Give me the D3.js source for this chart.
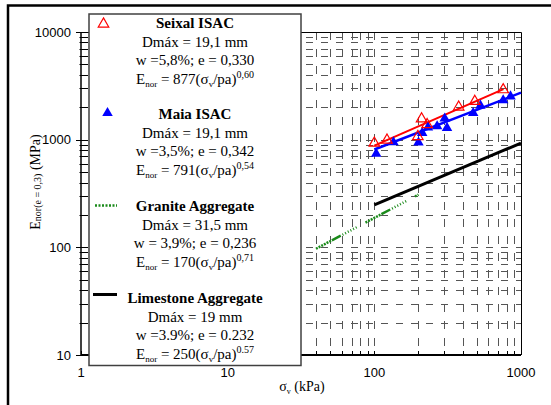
<!DOCTYPE html>
<html>
<head>
<meta charset="utf-8">
<script src="https://cdn.jsdelivr.net/npm/d3@7"></script>
<style>
  body { margin: 0; background: #fff; }
  svg { display: block; }
</style>
</head>
<body>
<svg id="chart" width="551" height="405"></svg>
<script>
// values: [sigma_v kPa, E MPa]
const seixalPoints = [[100, 930], [122, 990], [198, 1070], [210, 1560], [229, 1380], [376, 2010], [484, 2270], [756, 2910]];
const maiaPoints = [[103, 740], [135, 945], [200, 940], [212, 1155], [232, 1300], [268, 1330], [302, 1570], [313, 1285], [472, 1770], [529, 2070], [756, 2320], [848, 2520]];
const seixalFit = [[100, 880], [760, 2950]];
const maiaFit = [[100, 810], [1000, 2730]];
const graniteFit = [[40, 97], [200, 309]];
const limestoneFit = [[100, 248], [1000, 930]];
const xTickLabels = [1, 10, 100, 1000];
const yTickLabels = [10, 100, 1000, 10000];

const legendItems = [
  { title: 'Seixal ISAC', dmax: 'Dmáx = 19,1 mm', we: 'w =5,8%; e = 0,330', k: '877', n: '0,60', y: 28 },
  { title: 'Maia ISAC', dmax: 'Dmáx = 19,1 mm', we: 'w =3,5%; e = 0,342', k: '791', n: '0,54', y: 119 },
  { title: 'Granite Aggregate', dmax: 'Dmáx = 31,5 mm', we: 'w = 3,9%; e = 0,236', k: '170', n: '0,71', y: 211 },
  { title: 'Limestone Aggregate', dmax: 'Dmáx = 19 mm', we: 'w =3.9%; e = 0.232', k: '250', n: '0.57', y: 303 }
];

const svg = d3.select('#chart');
const plot = { left: 81, right: 521, top: 32, bottom: 355 };

const x = d3.scaleLog().domain([1, 1000]).range([plot.left, plot.right]);
const y = d3.scaleLog().domain([10, 10000]).range([plot.bottom, plot.top]);

// outer frame
svg.append('rect')
  .attr('x', 8).attr('y', 5.5).attr('width', 600).attr('height', 500)
  .attr('fill', 'none').attr('stroke', '#000').attr('stroke-width', 2.5);

function minorValues(lo, hi) {
  const out = [];
  for (let d = lo; d < hi; d *= 10) {
    for (let k = 1; k <= 9; k++) out.push(d * k);
  }
  out.push(hi);
  return out;
}
const xMinor = minorValues(1, 1000);
const yMinor = minorValues(10, 10000);

// dashed grid
const grid = svg.append('g').attr('stroke', '#555').attr('stroke-width', 1);
grid.selectAll('line.gx').data(xMinor.filter(v => v > 1 && v < 1000)).join('line')
  .attr('class', 'gx')
  .attr('x1', d => Math.round(x(d)) + 0.5).attr('x2', d => Math.round(x(d)) + 0.5)
  .attr('y1', plot.top).attr('y2', plot.bottom)
  .attr('stroke-dasharray', '8,9');
grid.selectAll('line.gy').data(yMinor.filter(v => v > 10 && v < 10000)).join('line')
  .attr('class', 'gy')
  .attr('x1', plot.left).attr('x2', plot.right)
  .attr('y1', d => Math.round(y(d)) + 0.5).attr('y2', d => Math.round(y(d)) + 0.5)
  .attr('stroke-dasharray', '7,8');

// plot frame (top and right thin)
svg.append('path')
  .attr('d', `M${plot.left},${plot.top + 0.5}H${plot.right + 0.5}V${plot.bottom}`)
  .attr('fill', 'none').attr('stroke', '#000').attr('stroke-width', 1);

// fitted lines
const line = d3.line().x(d => x(d[0])).y(d => y(d[1]));
svg.append('path').attr('d', line(limestoneFit))
  .attr('fill', 'none').attr('stroke', '#000').attr('stroke-width', 3);
svg.append('path').attr('d', line(graniteFit))
  .attr('fill', 'none').attr('stroke', '#1a8a1a').attr('stroke-width', 2.5)
  .attr('stroke-dasharray', '2,1,2,1,2,1,2,1,2,1,2,1,10');
svg.append('path').attr('d', line(seixalFit))
  .attr('fill', 'none').attr('stroke', '#ff0000').attr('stroke-width', 2);
svg.append('path').attr('d', line(maiaFit))
  .attr('fill', 'none').attr('stroke', '#0000ff').attr('stroke-width', 2.5);

// markers
const tri = d3.symbol().type(d3.symbolTriangle).size(48);
svg.selectAll('path.maia').data(maiaPoints).join('path')
  .attr('class', 'maia')
  .attr('d', tri)
  .attr('transform', d => `translate(${x(d[0])},${y(d[1])})`)
  .attr('fill', '#0000ff');
svg.selectAll('path.seixal').data(seixalPoints).join('path')
  .attr('class', 'seixal')
  .attr('d', tri)
  .attr('transform', d => `translate(${x(d[0])},${y(d[1])})`)
  .attr('fill', 'none').attr('stroke', '#ff0000').attr('stroke-width', 1.2);

// axes
const yAxis = svg.append('g').attr('transform', `translate(${plot.left},0)`);
yAxis.append('line').attr('x1', 0).attr('x2', 0).attr('y1', plot.top).attr('y2', plot.bottom)
  .attr('stroke', '#000').attr('stroke-width', 1.5);
yAxis.selectAll('line.t').data(yMinor).join('line').attr('class', 't')
  .attr('x1', d => yTickLabels.includes(d) ? -5 : -1.5).attr('x2', 7)
  .attr('y1', d => Math.round(y(d)) + 0.5).attr('y2', d => Math.round(y(d)) + 0.5)
  .attr('stroke', '#000').attr('stroke-width', 1);
yAxis.selectAll('text').data(yTickLabels).join('text')
  .attr('x', -10).attr('y', d => y(d)).attr('dy', '0.35em')
  .attr('text-anchor', 'end')
  .style('font-family', 'Liberation Sans, Arial, sans-serif').style('font-size', '13px')
  .text(d => d);

const xAxis = svg.append('g').attr('transform', `translate(0,${plot.bottom})`);
xAxis.append('line').attr('x1', plot.left).attr('x2', plot.right).attr('y1', 0).attr('y2', 0)
  .attr('stroke', '#000').attr('stroke-width', 2);
xAxis.selectAll('line.t').data(xMinor).join('line').attr('class', 't')
  .attr('x1', d => Math.round(x(d)) + 0.5).attr('x2', d => Math.round(x(d)) + 0.5)
  .attr('y1', 0).attr('y2', -4)
  .attr('stroke', '#000').attr('stroke-width', 1);
xAxis.selectAll('text').data(xTickLabels).join('text')
  .attr('x', d => x(d)).attr('y', 22)
  .attr('text-anchor', 'middle')
  .style('font-family', 'Liberation Sans, Arial, sans-serif').style('font-size', '13px')
  .text(d => d);

// axis titles
const serif = '"Liberation Serif", "Times New Roman", serif';
const xt = svg.append('text').attr('x', 302).attr('y', 391).attr('text-anchor', 'middle')
  .style('font-family', serif).style('font-size', '14px');
xt.append('tspan').text('σ');
xt.append('tspan').attr('dy', 3).style('font-size', '8px').text('v');
xt.append('tspan').attr('dy', -3).text(' (kPa)');

const yt = svg.append('text').attr('transform', 'translate(40,182) rotate(-90)')
  .attr('text-anchor', 'middle').style('font-family', serif).style('font-size', '14px');
yt.append('tspan').text('E');
yt.append('tspan').attr('dy', 1).style('font-size', '10px').text('nor(e = 0,3)');
yt.append('tspan').attr('dy', -1).text(' (MPa)');

// legend box
const lg = svg.append('g');
lg.append('rect').attr('x', 89).attr('y', 14).attr('width', 212).attr('height', 351.5)
  .attr('fill', '#fff').attr('stroke', '#404040').attr('stroke-width', 1.5);

legendItems.forEach(item => {
  const cx = 195;
  const t = lg.append('g').style('font-family', serif).style('font-size', '15px').attr('text-anchor', 'middle');
  t.append('text').attr('x', cx).attr('y', item.y).style('font-weight', 'bold').text(item.title);
  t.append('text').attr('x', cx).attr('y', item.y + 18.5).text(item.dmax);
  t.append('text').attr('x', cx).attr('y', item.y + 37).text(item.we);
  const e = t.append('text').attr('x', cx).attr('y', item.y + 55.5);
  e.append('tspan').text('E');
  e.append('tspan').attr('dy', 3).style('font-size', '9px').text('nor');
  e.append('tspan').attr('dy', -3).text(` = ${item.k}(σ`);
  e.append('tspan').attr('dy', 3).style('font-size', '9px').text('v');
  e.append('tspan').attr('dy', -3).text('/pa)');
  e.append('tspan').attr('dy', -6).style('font-size', '10px').text(item.n);
});

// legend symbols
lg.append('path').attr('d', tri).attr('transform', 'translate(103.5,24)')
  .attr('fill', 'none').attr('stroke', '#ff0000').attr('stroke-width', 1.2);
lg.append('path').attr('d', tri).attr('transform', 'translate(107.5,113)')
  .attr('fill', '#0000ff');
lg.append('line').attr('x1', 95).attr('x2', 117).attr('y1', 205.5).attr('y2', 205.5)
  .attr('stroke', '#1a8a1a').attr('stroke-width', 2.5).attr('stroke-dasharray', '2,1.5');
lg.append('line').attr('x1', 93).attr('x2', 117).attr('y1', 294.5).attr('y2', 294.5)
  .attr('stroke', '#000').attr('stroke-width', 3);
</script>
</body>
</html>
